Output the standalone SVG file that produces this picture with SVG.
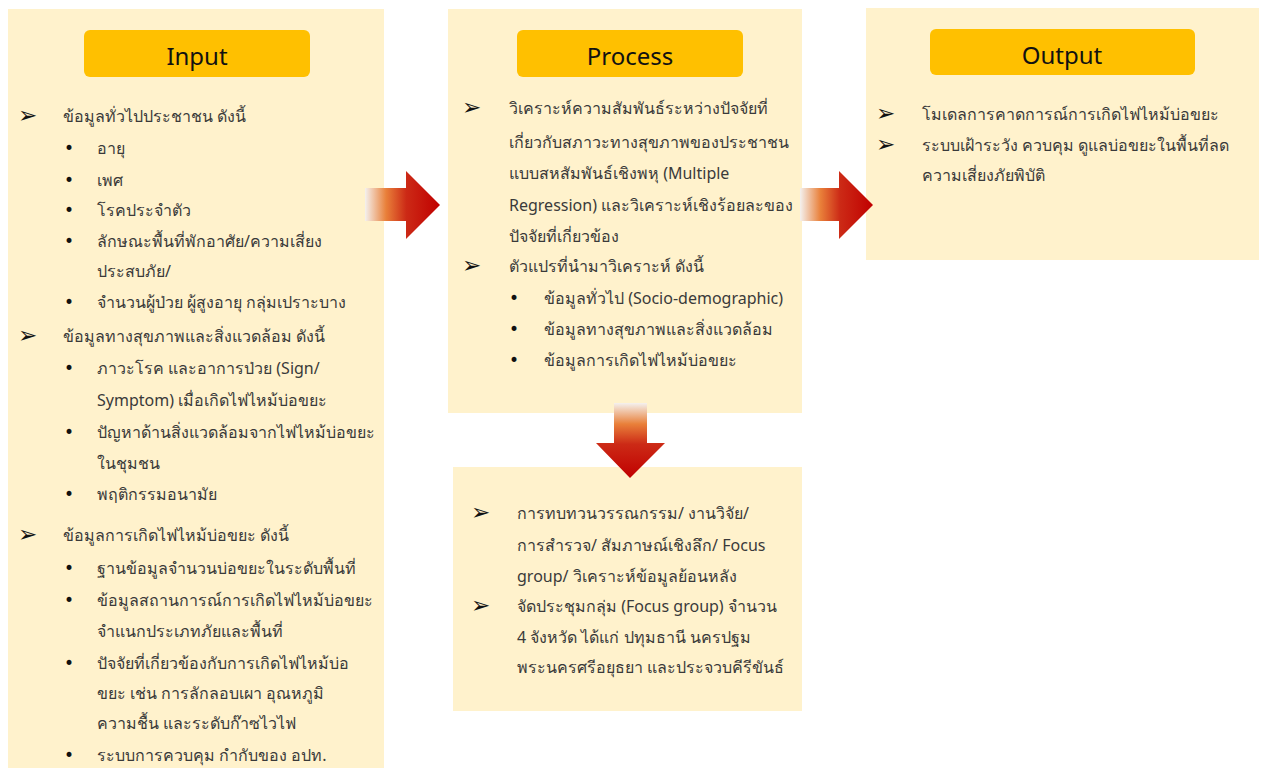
<svg xmlns="http://www.w3.org/2000/svg" width="1264" height="771" viewBox="0 0 1264 771">
<defs>
<linearGradient id="gh" x1="0" y1="0" x2="1" y2="0">
<stop offset="0" stop-color="#f4f1ee"/>
<stop offset="0.28" stop-color="#e9803a"/>
<stop offset="0.55" stop-color="#cc2a16"/>
<stop offset="1" stop-color="#c00000"/>
</linearGradient>
<linearGradient id="gv" x1="0" y1="0" x2="0" y2="1">
<stop offset="0" stop-color="#f4f1ee"/>
<stop offset="0.28" stop-color="#e9803a"/>
<stop offset="0.55" stop-color="#cc2a16"/>
<stop offset="1" stop-color="#c00000"/>
</linearGradient>
<style>
.panel{fill:#fff2cc}
.hdr{fill:#ffc000}
.ht{font-family:"Noto Sans","DejaVu Sans",sans-serif;font-size:24px;fill:#111;text-anchor:middle}
.t{font-family:"Noto Sans","DejaVu Sans",sans-serif;font-size:16px;fill:#3a3a3a}
.ar{font-family:"DejaVu Sans",sans-serif;font-size:23px;fill:#111}
.bu{font-family:"DejaVu Sans",sans-serif;font-size:17px;fill:#111}
</style>
</defs>
<rect width="1264" height="771" fill="#ffffff"/>

<g id="input">
<rect class="panel" x="8" y="9" width="376" height="759"/>
<rect class="hdr" x="84" y="30" width="226" height="47" rx="6"/>
<text class="ht" x="197" y="65">Input</text>
<text class="ar" x="18" y="123">➢</text><text class="t" x="63" y="122">ข้อมูลทั่วไปประชาชน ดังนี้</text>
<text class="bu" x="64" y="154">•</text><text class="t" x="97" y="154">อายุ</text>
<text class="bu" x="64" y="186">•</text><text class="t" x="97" y="186">เพศ</text>
<text class="bu" x="64" y="216">•</text><text class="t" x="97" y="216">โรคประจำตัว</text>
<text class="bu" x="64" y="247">•</text><text class="t" x="97" y="247">ลักษณะพื้นที่พักอาศัย/ความเสี่ยง</text>
<text class="t" x="97" y="277">ประสบภัย/</text>
<text class="bu" x="64" y="308">•</text><text class="t" x="97" y="308">จำนวนผู้ป่วย ผู้สูงอายุ กลุ่มเปราะบาง</text>
<text class="ar" x="18" y="343">➢</text><text class="t" x="63" y="342">ข้อมูลทางสุขภาพและสิ่งแวดล้อม ดังนี้</text>
<text class="bu" x="64" y="374">•</text><text class="t" x="97" y="374">ภาวะโรค และอาการป่วย (Sign/</text>
<text class="t" x="97" y="406">Symptom) เมื่อเกิดไฟไหม้บ่อขยะ</text>
<text class="bu" x="64" y="438">•</text><text class="t" x="97" y="438">ปัญหาด้านสิ่งแวดล้อมจากไฟไหม้บ่อขยะ</text>
<text class="t" x="97" y="469">ในชุมชน</text>
<text class="bu" x="64" y="500">•</text><text class="t" x="97" y="500">พฤติกรรมอนามัย</text>
<text class="ar" x="18" y="542">➢</text><text class="t" x="63" y="541">ข้อมูลการเกิดไฟไหม้บ่อขยะ ดังนี้</text>
<text class="bu" x="64" y="574">•</text><text class="t" x="97" y="574">ฐานข้อมูลจำนวนบ่อขยะในระดับพื้นที่</text>
<text class="bu" x="64" y="606">•</text><text class="t" x="97" y="606">ข้อมูลสถานการณ์การเกิดไฟไหม้บ่อขยะ</text>
<text class="t" x="97" y="637">จำแนกประเภทภัยและพื้นที่</text>
<text class="bu" x="64" y="669">•</text><text class="t" x="97" y="669">ปัจจัยที่เกี่ยวข้องกับการเกิดไฟไหม้บ่อ</text>
<text class="t" x="97" y="699">ขยะ เช่น การลักลอบเผา อุณหภูมิ</text>
<text class="t" x="97" y="729">ความชื้น และระดับก๊าซไวไฟ</text>
<text class="bu" x="64" y="761">•</text><text class="t" x="97" y="761">ระบบการควบคุม กำกับของ อปท.</text>
</g>

<g id="process">
<rect class="panel" x="448" y="9" width="354" height="404"/>
<rect class="hdr" x="517" y="30" width="226" height="47" rx="6"/>
<text class="ht" x="630" y="65">Process</text>
<text class="ar" x="462" y="115">➢</text><text class="t" x="509" y="114">วิเคราะห์ความสัมพันธ์ระหว่างปัจจัยที่</text>
<text class="t" x="509" y="148">เกี่ยวกับสภาวะทางสุขภาพของประชาชน</text>
<text class="t" x="509" y="179">แบบสหสัมพันธ์เชิงพหุ (Multiple</text>
<text class="t" x="509" y="211">Regression) และวิเคราะห์เชิงร้อยละของ</text>
<text class="t" x="509" y="242">ปัจจัยที่เกี่ยวข้อง</text>
<text class="ar" x="462" y="273">➢</text><text class="t" x="509" y="272">ตัวแปรที่นำมาวิเคราะห์ ดังนี้</text>
<text class="bu" x="509" y="304">•</text><text class="t" x="544" y="304">ข้อมูลทั่วไป (Socio-demographic)</text>
<text class="bu" x="509" y="335">•</text><text class="t" x="544" y="335">ข้อมูลทางสุขภาพและสิ่งแวดล้อม</text>
<text class="bu" x="509" y="366">•</text><text class="t" x="544" y="366">ข้อมูลการเกิดไฟไหม้บ่อขยะ</text>
</g>

<g id="methods">
<rect class="panel" x="453" y="467" width="349" height="244"/>
<text class="ar" x="471" y="520">➢</text><text class="t" x="517" y="519">การทบทวนวรรณกรรม/ งานวิจัย/</text>
<text class="t" x="517" y="551">การสำรวจ/ สัมภาษณ์เชิงลึก/ Focus</text>
<text class="t" x="517" y="582">group/ วิเคราะห์ข้อมูลย้อนหลัง</text>
<text class="ar" x="471" y="613">➢</text><text class="t" x="517" y="612">จัดประชุมกลุ่ม (Focus group) จำนวน</text>
<text class="t" x="517" y="643">4 จังหวัด ได้แก่ ปทุมธานี นครปฐม</text>
<text class="t" x="517" y="673">พระนครศรีอยุธยา และประจวบคีรีขันธ์</text>
</g>

<g id="output">
<rect class="panel" x="866" y="8" width="393" height="252"/>
<rect class="hdr" x="930" y="29" width="265" height="46" rx="6"/>
<text class="ht" x="1062" y="64">Output</text>
<text class="ar" x="876" y="121">➢</text><text class="t" x="922" y="120">โมเดลการคาดการณ์การเกิดไฟไหม้บ่อขยะ</text>
<text class="ar" x="876" y="152">➢</text><text class="t" x="922" y="151">ระบบเฝ้าระวัง ควบคุม ดูแลบ่อขยะในพื้นที่ลด</text>
<text class="t" x="922" y="181">ความเสี่ยงภัยพิบัติ</text>
</g>

<g id="connectors">
<polygon fill="url(#gh)" points="365,188 406,188 406,171 440,205 406,239 406,221 365,221"/>
<polygon fill="url(#gh)" points="800,188 839,188 839,171 873,205 839,239 839,221 800,221"/>
<polygon fill="url(#gv)" points="614,403 647,403 647,443 665,443 630,478 596,443 614,443"/>
</g>
</svg>
